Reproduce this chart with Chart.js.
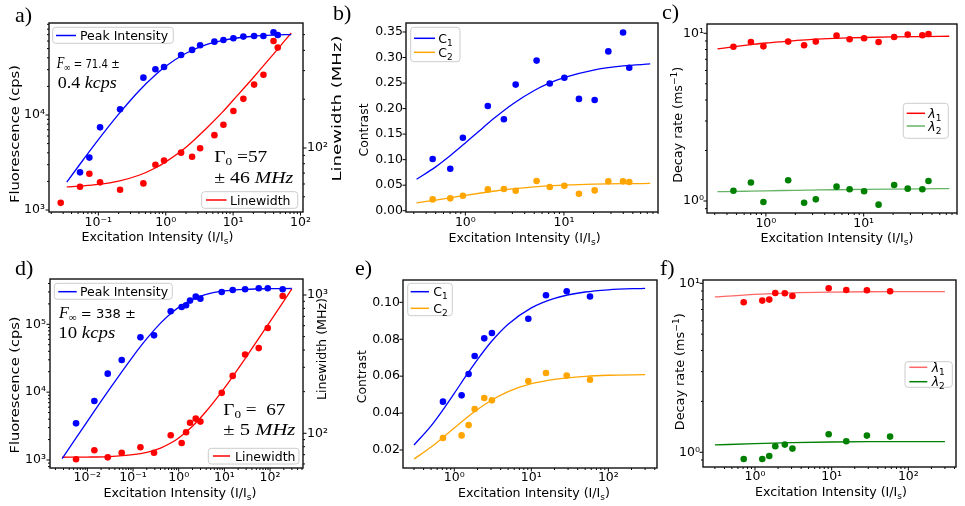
<!DOCTYPE html>
<html>
<head>
<meta charset="utf-8">
<script src="https://cdn.jsdelivr.net/npm/chart.js@4.4.1/dist/chart.umd.min.js"></script>
<style>
body { margin: 0; background: #fff; width: 965px; height: 506px; position: relative; overflow: hidden; }
canvas { position: absolute; }
</style>
</head>
<body>
<canvas id="pa"></canvas>
<canvas id="pb"></canvas>
<canvas id="pc"></canvas>
<canvas id="pd"></canvas>
<canvas id="pe"></canvas>
<canvas id="pf"></canvas>
<script>
// ---- data ----
// a) peak intensity + linewidth vs excitation
const aX = [0.0276, 0.0534, 0.0735, 0.106, 0.21, 0.466, 0.703, 0.944, 1.69, 2.46, 3.24, 5.28, 7.18, 10.1, 14.2, 20.5, 28.2, 39.8, 46]
const aPeak = [null, 2490, 3560, 7410, 11480, 24700, 30300, 32000, 42800, 48400, 54100, 59100, 61600, 64100, 66800, 67900, 67900, 74200, 69500]
const aWidth = [45.9, 57.7, 69.4, 61.4, 55.3, 60.5, 78.9, 83.6, 93.6, 88.4, 99.6, 120, 139, 169, 201, 246, 283, 457, 416]
const aFitX = [0.034, 0.06, 0.1, 0.2, 0.4, 0.7, 1, 2, 4, 7, 10, 20, 40, 73]
const aPeakFit = [1970, 3400, 5500, 10200, 17900, 26300, 32500, 44600, 54900, 61000, 63800, 67400, 69300, 70200]
const aWidthFit = [57.6, 58.4, 59.6, 62.5, 67.9, 75.3, 82.1, 101, 132, 167, 197, 272, 381, 512]

// b) and c) share the excitation values
const bcX = [0.466, 0.703, 0.944, 1.69, 2.46, 3.24, 5.28, 7.18, 10.1, 14.2, 20.5, 28.2, 39.8, 46]
const bC1 = [0.1012, 0.0823, 0.143, 0.205, 0.179, 0.247, 0.294, 0.249, 0.2605, 0.219, 0.2168, 0.312, 0.349, 0.280]
const bC2 = [0.0222, 0.0242, 0.0294, 0.0418, 0.0424, 0.0392, 0.0581, 0.0464, 0.049, 0.0333, 0.0398, 0.0575, 0.0575, 0.0562]
const bcFitX = [0.32, 0.5, 0.7, 1, 1.5, 2, 3, 5, 7, 10, 20, 40, 75]
const bC1Fit = [0.0615, 0.0859, 0.1076, 0.1327, 0.1622, 0.1825, 0.2086, 0.2355, 0.2493, 0.2607, 0.2755, 0.2835, 0.2874]
const bC2Fit = [0.0154, 0.0208, 0.0252, 0.030, 0.0352, 0.0386, 0.0426, 0.0466, 0.0485, 0.050, 0.0519, 0.0529, 0.0534]
const cL1 = [8.32, 8.88, 8.36, 8.92, 8.48, 8.92, 9.68, 9.21, 9.34, 8.88, 9.51, 9.82, 9.73, 9.91]
const cL2 = [1.152, 1.29, 0.986, 1.33, 0.977, 1.023, 1.218, 1.175, 1.142, 0.951, 1.246, 1.185, 1.175, 1.316]
const cL1Fit = [8.07, 8.35, 8.55, 8.75, 8.93, 9.05, 9.2, 9.33, 9.39, 9.44, 9.51, 9.56, 9.6]
const cL2Fit = [1.137, 1.14, 1.145, 1.15, 1.155, 1.158, 1.162, 1.167, 1.17, 1.173, 1.178, 1.182, 1.185]

// d) second sample
const dX = [0.00565, 0.01423, 0.0279, 0.0565, 0.145, 0.288, 0.668, 1.16, 1.45, 1.77, 2.36, 2.98, 8.75, 15.2, 28.4, 56.5, 89, 189]
const dPeak = [3470, 7410, 18750, 29800, 64300, 68800, 155600, 180300, 190700, 223500, 255800, 239000, 299800, 320900, 328300, 339500, 339500, 328300]
const dWidth = [64.9, 75.3, 67, 72.4, 79.3, 72.4, 96.7, 85.1, 101.7, 119.3, 127.6, 121.5, 196, 260, 371, 413, 577, 984]
const dFitX = [0.0028, 0.01, 0.03, 0.1, 0.2, 0.4, 0.7, 1, 2, 4, 10, 30, 100, 300]
const dPeakFit = [1048, 3714, 10900, 33800, 61450, 104000, 147900, 177900, 233100, 275900, 310100, 328200, 335000, 337000]
const dWidthFit = [67.1, 67.3, 67.9, 70.0, 72.8, 78.2, 85.7, 92.6, 112.5, 144.3, 212.3, 356, 642, 1108]

// e) and f)
const efX = [0.713, 1.245, 1.535, 1.84, 2.45, 3.08, 9.14, 15.5, 28.8, 57.8]
const eC1 = [0.0462, 0.0496, 0.0612, 0.0709, 0.0805, 0.0834, 0.0911, 0.1038, 0.106, 0.1032]
const eC2 = [0.0265, 0.0279, 0.0335, 0.0422, 0.0482, 0.0469, 0.0574, 0.0617, 0.0603, 0.0581]
const eFitX = [0.3, 0.5, 0.7, 1, 1.5, 2, 3, 5, 10, 20, 50, 100, 300]
const eC1Fit = [0.0227, 0.0331, 0.0413, 0.0507, 0.0616, 0.069, 0.0785, 0.0881, 0.097, 0.1022, 0.1056, 0.1068, 0.1076]
const eC2Fit = [0.0151, 0.0216, 0.0265, 0.0319, 0.038, 0.0419, 0.0468, 0.0516, 0.0559, 0.0583, 0.0599, 0.0605, 0.0608]
const fL1 = [7.72, 7.90, 8.01, 8.77, 8.73, 8.41, 9.34, 9.13, 9.09, 8.97]
const fL2 = [0.913, 0.913, 0.951, 1.085, 1.11, 1.051, 1.278, 1.162, 1.255, 1.238]
const fFitX = [0.3, 1, 3, 10, 30, 100, 300]
const fL1Fit = [8.3, 8.6, 8.78, 8.87, 8.91, 8.92, 8.93]
const fL2Fit = [1.105, 1.125, 1.14, 1.15, 1.155, 1.157, 1.157]

// tick labels
const aXDec = [0.1, 1, 10, 100], aYDec = [1e3, 1e4], aY2Dec = [100]
const bcXDec = [1, 10], cYDec = [1, 10]
const bTicks = [0, 0.05, 0.10, 0.15, 0.20, 0.25, 0.30, 0.35]
const dXDec = [0.01, 0.1, 1, 10, 100], dYDec = [1e3, 1e4, 1e5], dY2Dec = [100, 1000]
const efXDec = [1, 10, 100], fYDec = [1, 10]
const eTicks = [0.02, 0.04, 0.06, 0.08, 0.10]

// ---- styling ----
const SANS = "'DejaVu Sans', sans-serif"
const SERIF = "'Liberation Serif', 'DejaVu Serif', serif"
const F_T = '12.5px ' + SANS
const F_TI = 'italic 12.5px ' + SANS
const F_SUB = '9px ' + SANS
const F_MI = 'italic 16px ' + SERIF
const F_MR = '16px ' + SERIF
const F_MS = '11px ' + SERIF
const F_MN = '13px ' + SANS
const BLUE = '#0000ff', RED = '#ff0000', ORANGE = '#ffa500', GREEN = '#008000'
const RED_L = 'rgba(255,0,0,0.6)', GREEN_L = 'rgba(0,128,0,0.6)'
const AXIS_W = 40, AXIS_H = 30

Chart.defaults.font.family = SANS
Chart.defaults.font.size = 12.5
Chart.defaults.color = '#000'

const SUP = {'-': '⁻', '0': '⁰', '1': '¹', '2': '²', '3': '³', '4': '⁴', '5': '⁵', '6': '⁶', '7': '⁷', '8': '⁸', '9': '⁹'}
function pow10Label(v) {
   const e = Math.round(Math.log10(v))
   return '10' + String(e).split('').map(c => SUP[c]).join('')
}

function logTicks(lo, hi, decades) {
   const out = []
   for (let e = Math.floor(Math.log10(lo)); e <= Math.floor(Math.log10(hi)); e++) {
      for (let k = 1; k < 10; k++) {
         const v = parseFloat((k * Math.pow(10, e)).toPrecision(6))
         if (v >= lo && v <= hi) out.push({value: v, major: k === 1 && decades.includes(v)})
      }
   }
   return out
}

function axisBase(type, pos, min, max, ticks, pad, fmt) {
   return {
      type: type, position: pos, min: min, max: max, bounds: 'data',
      grid: {display: false, drawTicks: false}, border: {display: false},
      ticks: {autoSkip: false, maxRotation: 0, minRotation: 0, padding: pad, color: '#000', font: {size: 12.5}, callback: fmt},
      afterBuildTicks: s => { s.ticks = ticks.map(t => ({value: t.value, major: t.major})) },
      afterFit: s => { if (pos === 'bottom') s.height = AXIS_H; else s.width = AXIS_W }
   }
}
function logAxis(pos, min, max, decades, pad) {
   return axisBase('logarithmic', pos, min, max, logTicks(min, max, decades), pad,
      function (v, i, t) { return t[i].major ? pow10Label(v) : '' })
}
function linAxis(pos, min, max, values, pad) {
   return axisBase('linear', pos, min, max, values.map(v => ({value: v, major: true})), pad,
      function (v) { return Number(v).toFixed(2) })
}

function pts(xs, ys) {
   const out = []
   xs.forEach((x, i) => { if (ys[i] != null) out.push({x: x, y: ys[i]}) })
   return out
}
function dots(xs, ys, color, axis) {
   return {data: pts(xs, ys), showLine: false, yAxisID: axis || 'y', pointRadius: 3.3, pointHoverRadius: 3.3,
      pointBackgroundColor: color, pointBorderWidth: 0, backgroundColor: color, borderColor: color}
}
function curve(xs, ys, color, axis) {
   return {data: pts(xs, ys), showLine: true, yAxisID: axis || 'y', pointRadius: 0, borderColor: color,
      borderWidth: 1.3, fill: false, cubicInterpolationMode: 'monotone'}
}

// ---- decorations: frame, tick marks, titles, legends, notes (page coordinates) ----
function rich(ctx, parts, x, y, width, align) {
   const ws = parts.map(p => { ctx.font = p[1]; return ctx.measureText(p[0]).width })
   const total = ws.reduce((a, b) => a + b, 0)
   ctx.save()
   ctx.translate(x, y)
   if (width) ctx.scale(width / total, 1)
   let cx = align === 'center' ? -total / 2 : 0
   ctx.textAlign = 'left'
   ctx.textBaseline = 'alphabetic'
   parts.forEach((p, i) => { ctx.font = p[1]; ctx.fillText(p[0], cx, p[2] || 0); cx += ws[i] })
   ctx.restore()
}

const XT = [['Excitation Intensity (I/I', F_T], ['s', F_SUB, 3], [')', F_T]]
const FLUOR = [['Fluorescence (cps)', F_T]]
const LINEW = [['Linewidth (MHz)', F_T]]
const CONTR = [['Contrast', F_T]]
const DECAY = [['Decay rate (ms', F_T], ['−1', F_SUB, -5], [')', F_T]]
const C1 = [['C', F_T], ['1', F_SUB, 3]], C2 = [['C', F_T], ['2', F_SUB, 3]]
const L1 = [['λ', F_TI], ['1', F_SUB, 3]], L2 = [['λ', F_TI], ['2', F_SUB, 3]]

const extras = {
   pa: {
      panel: ['a)', 15, 21.5], xTitle: [157.5, 241, 152],
      yTitles: [[FLUOR, 14, 134, 138], [LINEW, 336.5, 108.5, 146]],
      legends: [
         {box: [52.7, 27.3, 173.3, 43.3], line: [56, 76], textX: 80, items: [{color: BLUE, y: 35.5, parts: [['Peak Intensity', F_T]]}]},
         {box: [201.7, 191.7, 297.7, 208.3], line: [206, 226.5], textX: 230, items: [{color: RED, y: 200, parts: [['Linewidth', F_T]]}]}
      ],
      notes: [
         {x: 56.7, y: 67.5, w: 63, parts: [['F', F_MI], ['∞', F_MS, 3], [' = 71.4 ±', F_MN]]},
         {x: 57.7, y: 87.5, w: 59, parts: [['0.4 ', F_MR], ['kcps', F_MI]]},
         {x: 214.3, y: 161.5, w: 53, parts: [['Γ', F_MR], ['0', F_MS, 3], [' =57', F_MR]]},
         {x: 214.3, y: 183, w: 79, parts: [['± 46 ', F_MR], ['MHz', F_MI]]}
      ]
   },
   pb: {
      panel: ['b)', 333, 20], xTitle: [524.6, 241.5, 152],
      yTitles: [[CONTR, 363, 130, 53]],
      legends: [{box: [410.7, 27.3, 460, 61.7], line: [414, 435], textX: 438.3,
         items: [{color: BLUE, y: 38.3, parts: C1}, {color: ORANGE, y: 52.3, parts: C2}]}],
      notes: []
   },
   pc: {
      panel: ['c)', 662, 18.5], xTitle: [837, 241.5, 153],
      yTitles: [[DECAY, 677.5, 124.7, 116]],
      legends: [{box: [903.3, 103.3, 948.3, 138.3], line: [906.7, 925], textX: 928.3,
         items: [{color: RED, y: 113.3, parts: L1}, {color: GREEN_L, y: 126, parts: L2}]}],
      notes: []
   },
   pd: {
      panel: ['d)', 15, 274.5], xTitle: [180, 496.5, 153],
      yTitles: [[FLUOR, 14, 385, 137], [LINEW, 321.5, 349, 102]],
      legends: [
         {box: [54.3, 283.3, 172.3, 299.3], line: [58.3, 76.7], textX: 80, items: [{color: BLUE, y: 291.7, parts: [['Peak Intensity', F_T]]}]},
         {box: [208.3, 448.3, 299, 464], line: [213, 230], textX: 235, items: [{color: RED, y: 456, parts: [['Linewidth', F_T]]}]}
      ],
      notes: [
         {x: 59, y: 318.3, w: 77, parts: [['F', F_MI], ['∞', F_MS, 3], [' = 338 ±', F_MN]]},
         {x: 58.3, y: 338.3, w: 57, parts: [['10 ', F_MR], ['kcps', F_MI]]},
         {x: 223.3, y: 415, w: 62, parts: [['Γ', F_MR], ['0', F_MS, 3], [' =  67', F_MR]]},
         {x: 223.3, y: 435, w: 72, parts: [['± 5 ', F_MR], ['MHz', F_MI]]}
      ]
   },
   pe: {
      panel: ['e)', 355, 275], xTitle: [534, 496.5, 152],
      yTitles: [[CONTR, 361.5, 376.7, 53]],
      legends: [{box: [407.7, 283.3, 452.3, 315.7], line: [410.7, 429], textX: 433.3,
         items: [{color: BLUE, y: 291.7, parts: C1}, {color: ORANGE, y: 308.3, parts: C2}]}],
      notes: []
   },
   pf: {
      panel: ['f)', 660, 274.5], xTitle: [831, 496, 152],
      yTitles: [[DECAY, 679, 371.7, 117]],
      legends: [{box: [905, 361.7, 952.3, 387.3], line: [909.3, 927.3], textX: 931.7,
         items: [{color: RED_L, y: 367.3, parts: L1}, {color: GREEN, y: 381.7, parts: L2}]}],
      notes: []
   }
}

const decor = {
   id: 'decor',
   afterDraw(chart) {
      const ctx = chart.ctx
      const ca = chart.chartArea
      const ex = extras[chart.canvas.id]
      ctx.save()
      // tick marks, outward like matplotlib
      ctx.strokeStyle = '#000'
      ctx.lineWidth = 1
      Object.values(chart.scales).forEach(s => {
         s.ticks.forEach(t => {
            const p = s.getPixelForValue(t.value)
            const len = t.major ? 3.5 : 2
            ctx.beginPath()
            if (s.position === 'bottom') { ctx.moveTo(p, ca.bottom); ctx.lineTo(p, ca.bottom + len) }
            else if (s.position === 'left') { ctx.moveTo(ca.left, p); ctx.lineTo(ca.left - len, p) }
            else { ctx.moveTo(ca.right, p); ctx.lineTo(ca.right + len, p) }
            ctx.stroke()
         })
      })
      ctx.lineWidth = 1.4
      ctx.strokeStyle = '#111'
      ctx.strokeRect(ca.left, ca.top, ca.right - ca.left, ca.bottom - ca.top)

      // everything below uses page coordinates
      const box = chart.canvas.getBoundingClientRect()
      ctx.translate(-box.left, -box.top)
      ctx.fillStyle = '#000'

      ex.legends.forEach(L => {
         const [x1, y1, x2, y2] = L.box
         ctx.beginPath()
         ctx.roundRect(x1, y1, x2 - x1, y2 - y1, 3)
         ctx.fillStyle = 'rgba(255,255,255,0.8)'
         ctx.fill()
         ctx.strokeStyle = '#cccccc'
         ctx.lineWidth = 1
         ctx.stroke()
         L.items.forEach(it => {
            ctx.strokeStyle = it.color
            ctx.lineWidth = 1.5
            ctx.beginPath()
            ctx.moveTo(L.line[0], it.y)
            ctx.lineTo(L.line[1], it.y)
            ctx.stroke()
            ctx.fillStyle = '#000'
            rich(ctx, it.parts, L.textX, it.y + 4.5)
         })
      })

      ctx.fillStyle = '#000'
      ex.notes.forEach(n => rich(ctx, n.parts, n.x, n.y, n.w))

      const xt = ex.xTitle
      rich(ctx, XT, xt[0], xt[1], xt[2], 'center')

      ex.yTitles.forEach(yt => {
         ctx.save()
         ctx.translate(yt[1], yt[2])
         ctx.rotate(-Math.PI / 2)
         rich(ctx, yt[0], 0, 4.5, yt[3], 'center')
         ctx.restore()
      })

      ctx.font = '22px ' + SERIF
      ctx.textAlign = 'left'
      ctx.textBaseline = 'alphabetic'
      ctx.fillText(ex.panel[0], ex.panel[1], ex.panel[2])
      ctx.restore()
   }
}

function makeChart(id, rect, box, scales, datasets) {
   const cv = document.getElementById(id)
   cv.width = rect[2]
   cv.height = rect[3]
   cv.style.left = rect[0] + 'px'
   cv.style.top = rect[1] + 'px'
   const wr = scales.y2 ? AXIS_W : 0
   return new Chart(cv, {
      type: 'scatter',
      data: {datasets: datasets},
      options: {
         responsive: false, animation: false, devicePixelRatio: 1, events: [],
         layout: {autoPadding: false, padding: {
            left: box[0] - rect[0] - AXIS_W, top: box[1] - rect[1],
            right: rect[0] + rect[2] - box[2] - wr, bottom: rect[1] + rect[3] - box[3] - AXIS_H}},
         plugins: {legend: {display: false}, tooltip: {enabled: false}},
         scales: scales
      },
      plugins: [decor]
   })
}

makeChart('pa', [0, 0, 355, 250], [49, 23, 303, 212], {
   x: logAxis('bottom', 0.0185, 109, aXDec, 3),
   y: logAxis('left', 953, 92900, aYDec, 4),
   y2: logAxis('right', 40.3, 590, aY2Dec, 4)
}, [
   dots(aX, aPeak, BLUE), dots(aX, aWidth, RED, 'y2'),
   curve(aFitX, aPeakFit, BLUE), curve(aFitX, aWidthFit, RED, 'y2')
])

makeChart('pb', [325, 0, 340, 250], [406, 23, 658, 212], {
   x: logAxis('bottom', 0.25, 90, bcXDec, 3),
   y: linAxis('left', -0.0025, 0.3676, bTicks, 3)
}, [
   dots(bcX, bC1, BLUE), dots(bcX, bC2, ORANGE),
   curve(bcFitX, bC1Fit, BLUE), curve(bcFitX, bC2Fit, ORANGE)
])

makeChart('pc', [655, 0, 310, 250], [707, 24, 957, 213], {
   x: logAxis('bottom', 0.25, 90, bcXDec, 3),
   y: logAxis('left', 0.848, 11.36, cYDec, 3)
}, [
   dots(bcX, cL1, RED), dots(bcX, cL2, GREEN),
   curve(bcFitX, cL1Fit, RED), curve(bcFitX, cL2Fit, GREEN_L)
])

makeChart('pd', [0, 250, 355, 256], [50, 279, 303, 468], {
   x: logAxis('bottom', 0.00152, 526, dXDec, 2),
   y: logAxis('left', 762, 465600, dYDec, 4),
   y2: logAxis('right', 56.1, 1305, dY2Dec, 4)
}, [
   dots(dX, dPeak, BLUE), dots(dX, dWidth, RED, 'y2'),
   curve(dFitX, dPeakFit, BLUE), curve(dFitX, dWidthFit, RED, 'y2')
])

makeChart('pe', [325, 250, 340, 256], [403, 280, 657, 468], {
   x: logAxis('bottom', 0.216, 428, efXDec, 2),
   y: linAxis('left', 0.01025, 0.1121, eTicks, 3)
}, [
   dots(efX, eC1, BLUE), dots(efX, eC2, ORANGE),
   curve(eFitX, eC1Fit, BLUE), curve(eFitX, eC2Fit, ORANGE)
])

makeChart('pf', [655, 250, 310, 256], [703, 280, 956, 467], {
   x: logAxis('bottom', 0.21, 418, efXDec, 2),
   y: logAxis('left', 0.818, 10.46, fYDec, 3)
}, [
   dots(efX, fL1, RED), dots(efX, fL2, GREEN),
   curve(fFitX, fL1Fit, RED_L), curve(fFitX, fL2Fit, GREEN)
])
</script>
</body>
</html>
